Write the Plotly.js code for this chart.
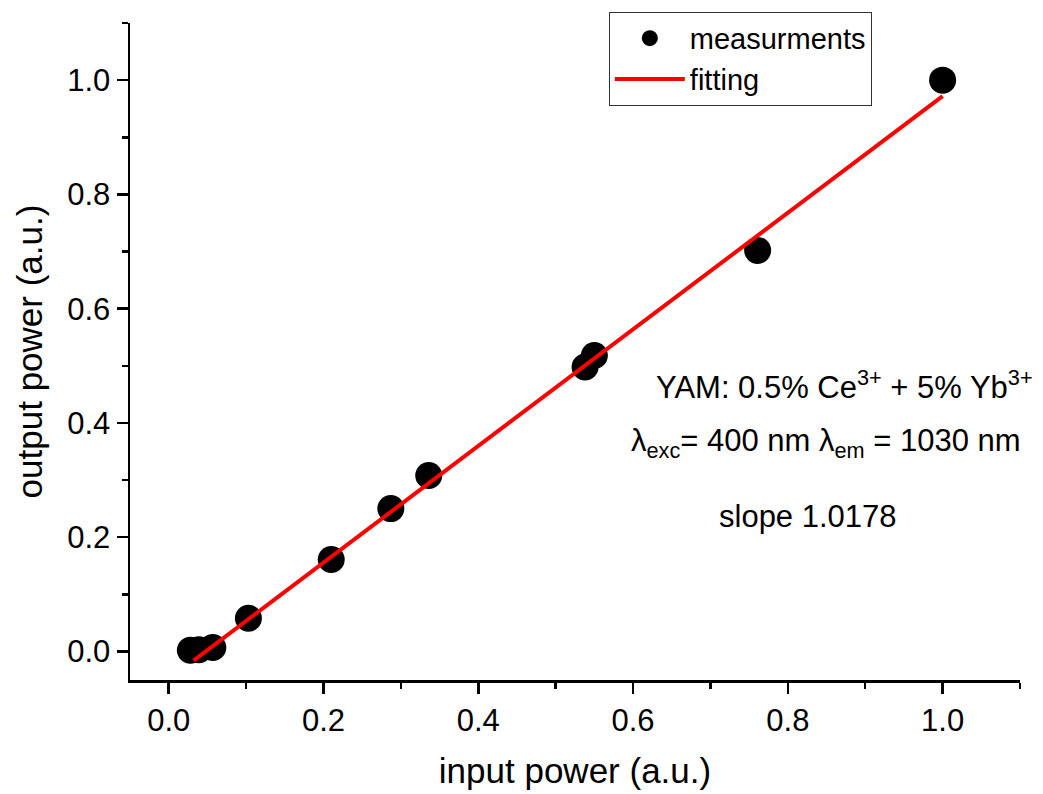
<!DOCTYPE html>
<html>
<head>
<meta charset="utf-8">
<script src="https://cdn.plot.ly/plotly-3.0.1.min.js"></script>
<style>
  html, body { margin: 0; padding: 0; background: #fff; }
  #chart { width: 1043px; height: 794px; }
</style>
</head>
<body>
<div id="chart"></div>
<script>
// measured data
const inputPower  = [0.028, 0.039, 0.057, 0.103, 0.210, 0.287, 0.336, 0.538, 0.550, 0.761, 1.000];
const outputPower = [0.002, 0.003, 0.007, 0.058, 0.161, 0.250, 0.308, 0.498, 0.518, 0.702, 1.000];

// linear fit (slope 1.0178)
const fitX = [0.032, 1.000];
const fitY = [-0.016, 0.972];

const xTickVals = [0.0, 0.2, 0.4, 0.6, 0.8, 1.0];
const xTickText = ['0.0', '0.2', '0.4', '0.6', '0.8', '1.0'];
const yTickVals = [0.0, 0.2, 0.4, 0.6, 0.8, 1.0];
const yTickText = ['0.0', '0.2', '0.4', '0.6', '0.8', '1.0'];

const FONT = '"Liberation Sans", Arial, Helvetica, sans-serif';

const traces = [
  {
    x: inputPower, y: outputPower,
    mode: 'markers', type: 'scatter', name: 'measurments',
    marker: { color: '#000000', size: 27 },
    cliponaxis: false
  },
  {
    x: fitX, y: fitY,
    mode: 'lines', type: 'scatter', name: 'fitting',
    line: { color: '#ff0000', width: 4 }
  }
];

const axisCommon = {
  showgrid: false, zeroline: false,
  showline: true, linecolor: '#000', linewidth: 2.5,
  ticks: 'outside', ticklen: 11, tickwidth: 2.5, tickcolor: '#000',
  tickfont: { family: FONT, size: 31, color: '#000' },
  minor: { dtick: 0.1, ticks: 'outside', ticklen: 6, tickwidth: 2.5, tickcolor: '#000' },
  mirror: false, automargin: false
};

const layout = {
  width: 1043, height: 794,
  margin: { l: 130, r: 23, t: 21, b: 114 },
  paper_bgcolor: '#fff', plot_bgcolor: '#fff',
  font: { family: FONT, color: '#000' },
  showlegend: true,
  legend: {
    x: 0.538, y: 1.017, xanchor: 'left', yanchor: 'top',
    bordercolor: '#333', borderwidth: 1, bgcolor: '#fff',
    font: { family: FONT, size: 29, color: '#000' },
    tracegroupgap: 0, itemwidth: 70
  },
  xaxis: Object.assign({}, axisCommon, {
    range: [-0.05, 1.1],
    tickvals: xTickVals, ticktext: xTickText,
    title: { text: 'input power (a.u.)', font: { family: FONT, size: 35, color: '#000' }, standoff: 22 }
  }),
  yaxis: Object.assign({}, axisCommon, {
    range: [-0.05, 1.1],
    tickvals: yTickVals, ticktext: yTickText,
    title: { text: 'output power (a.u.)', font: { family: FONT, size: 35, color: '#000' }, standoff: 14 }
  }),
  annotations: [
    { xref: 'x', yref: 'y', x: 0.873, y: 0.466, showarrow: false, xanchor: 'center', yanchor: 'middle',
      text: 'YAM: 0.5% Ce<sup>3+</sup> + 5% Yb<sup>3+</sup>', font: { family: FONT, size: 31, color: '#000' } },
    { xref: 'x', yref: 'y', x: 0.849, y: 0.365, showarrow: false, xanchor: 'center', yanchor: 'middle',
      text: 'λ<sub>exc</sub>= 400 nm λ<sub>em</sub> = 1030 nm', font: { family: FONT, size: 31, color: '#000' } },
    { xref: 'x', yref: 'y', x: 0.826, y: 0.236, showarrow: false, xanchor: 'center', yanchor: 'middle',
      text: 'slope 1.0178', font: { family: FONT, size: 31, color: '#000' } }
  ]
};

Plotly.newPlot('chart', traces, layout, { staticPlot: true, displayModeBar: false });
</script>
</body>
</html>
